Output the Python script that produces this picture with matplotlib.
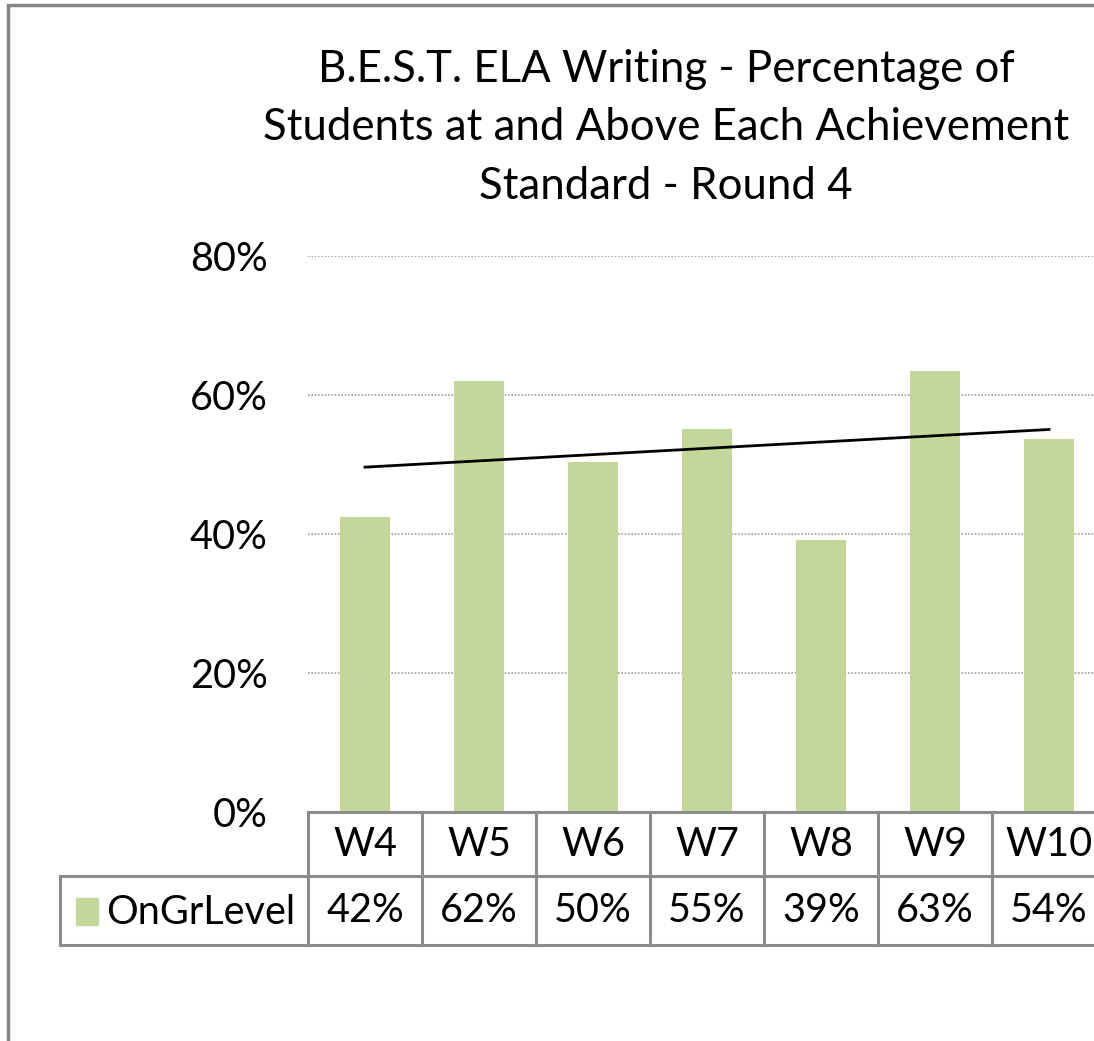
import matplotlib.pyplot as plt
import matplotlib.patches as mpatches
import matplotlib.transforms as mtransforms
import numpy as np

weeks = ['W4', 'W5', 'W6', 'W7', 'W8', 'W9', 'W10']
pct = [42.5, 62.0, 50.4, 55.1, 39.1, 63.5, 53.7]
pct_labels = ['42%', '62%', '50%', '55%', '39%', '63%', '54%']
series_name = 'OnGrLevel'
title = 'B.E.S.T. ELA Writing - Percentage of\nStudents at and Above Each Achievement\nStandard - Round 4'

bar_color = '#C4D79B'
line_gray = '#8C8C8C'
fnt = 'Lato'
fs = 28.5

W, H = 1094, 1041
fig = plt.figure(figsize=(W / 100, H / 100), dpi=100)

# plot area (pixel layout of the original, right side runs off the image)
left_px, right_px, top_px, bot_px = 308, 1106, 256, 812
ax = fig.add_axes([left_px / W, 1 - bot_px / H,
                   (right_px - left_px) / W, (bot_px - top_px) / H])

x = np.arange(len(weeks))
ax.bar(x, pct, width=0.43, color=bar_color, zorder=2)

# linear trendline
k, b = np.polyfit(x, pct, 1)
ax.plot(x, k * x + b, color='black', lw=2, zorder=3)

ax.set_xlim(-0.5, len(weeks) - 0.5)
ax.set_ylim(0, 80)
ax.set_yticks([0, 20, 40, 60, 80])
ax.set_yticklabels(['0%', '20%', '40%', '60%', '80%'], fontsize=fs, family=fnt)
ax.tick_params(axis='y', length=0, pad=29)
ax.set_xticks([])
for yv in [20, 40, 60, 80]:
    ax.axhline(yv, color='#A0A0A0', lw=1.2, ls=(0, (1, 1)), zorder=1)
for s in ax.spines.values():
    s.set_visible(False)

# data table under the plot
tr = mtransforms.blended_transform_factory(ax.transData, ax.transAxes)
ph = bot_px - top_px
r1 = -(876 - bot_px) / ph
r2 = -(945 - bot_px) / ph
xl = -0.5 - (left_px - 60) / 114.0
xr = len(weeks) - 0.5 + 1
lk = dict(color=line_gray, lw=2.2, transform=tr, clip_on=False, zorder=4)
ax.plot([-0.5, xr], [0, 0], **lk)
ax.plot([xl, xr], [r1, r1], **lk)
ax.plot([xl, xr], [r2, r2], **lk)
ax.plot([xl, xl], [r1, r2], **lk)
for i in range(len(weeks)):
    ax.plot([i - 0.5, i - 0.5], [0, r2], **lk)
    ax.text(i, r1 / 2, weeks[i], ha='center', va='center', fontsize=fs,
            family=fnt, transform=tr, clip_on=False)
    ax.text(i, (r1 + r2) / 2, pct_labels[i], ha='center', va='center', fontsize=fs,
            family=fnt, transform=tr, clip_on=False)

# legend key in table
fig.patches.append(mpatches.Rectangle((76 / W, 1 - 925 / H), 22 / W, 27 / H,
                                      color=bar_color, transform=fig.transFigure))
fig.text(106 / W, 1 - 912 / H, series_name, ha='left', va='center', fontsize=fs,
         family=fnt)

fig.text(666 / W, 1 - 128 / H, title, ha='center', va='center', fontsize=31.5,
         family=fnt, linespacing=1.53)

# chart frame
fig.patches.append(mpatches.Rectangle((8 / W, -0.1), 1.2, 1 - 5 / H + 0.1,
                                      fill=False, ec='#868686', lw=2.5,
                                      transform=fig.transFigure))

fig.savefig('out.png', dpi=100)
